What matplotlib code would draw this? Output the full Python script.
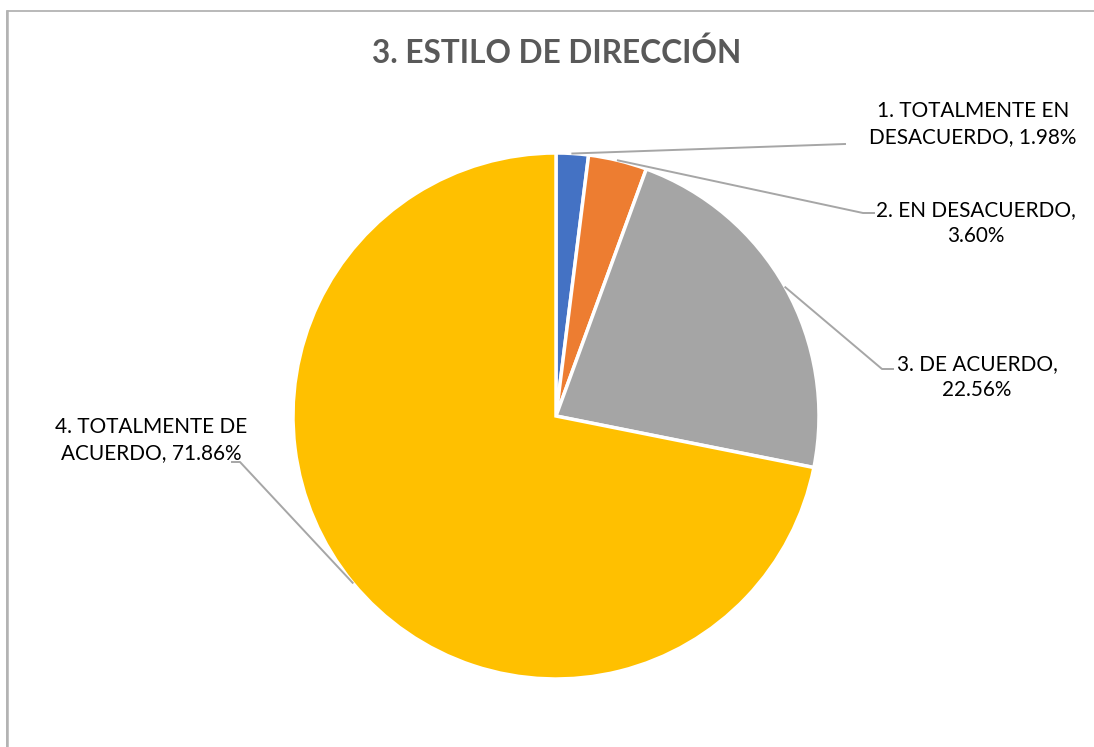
import matplotlib
matplotlib.use("Agg")
import matplotlib.pyplot as plt
import numpy as np

# ---- data ----
categories = ["1. TOTALMENTE EN\nDESACUERDO", "2. EN DESACUERDO,\n", "3. DE ACUERDO,\n", "4. TOTALMENTE DE\nACUERDO"]
label_texts = ["1. TOTALMENTE EN\nDESACUERDO, 1.98%", "2. EN DESACUERDO,\n3.60%",
               "3. DE ACUERDO,\n22.56%", "4. TOTALMENTE DE\nACUERDO, 71.86%"]
values = [1.98, 3.60, 22.56, 71.86]
colors = ["#4472C4", "#ED7D31", "#A5A5A5", "#FFC000"]
title = "3. ESTILO DE DIRECCIÓN"

W, H = 1094, 747
fig = plt.figure(figsize=(W / 100, H / 100), dpi=100)
ax = fig.add_axes([0, 0, 1, 1])
ax.set_xlim(0, W)
ax.set_ylim(0, H)
ax.set_aspect("equal")
ax.axis("off")

def Y(y):  # pixel y (top origin) -> data y
    return H - y

cx, cy, R = 556, Y(416), 263
wedges, _ = ax.pie(values, colors=colors, startangle=90, counterclock=False,
                   center=(cx, cy), radius=R, frame=True,
                   wedgeprops=dict(edgecolor="white", linewidth=2.5))
ax.set_xlim(0, W)
ax.set_ylim(0, H)
ax.axis("off")

# border (chart area frame)
ax.plot([7, 7, W + 5], [-5, Y(10.5), Y(10.5)], color="#b3b3b3", lw=1.3, solid_capstyle="butt")
ax.plot([7.2, 7.2], [-5, Y(10.5)], color="#b3b3b3", lw=1.8)

# leader lines: start on wedge edge at its mid angle
line_color = "#a6a6a6"
bends = [[(845, 144)], [(863, 213), (874, 213)], [(882, 369), (893, 369)], [(240, 462), (232, 462)]]
label_pos = [(973, 124), (976, 223), (977, 377), (151, 440)]

def fit_size(text, target_w, family, weight="normal"):
    t = fig.text(0, 0, text, fontsize=10, family=family, weight=weight)
    fig.canvas.draw()
    w = t.get_window_extent().width
    t.remove()
    return 10 * target_w / w

fam = ["Lato", "DejaVu Sans"]
lab_fs = fit_size("DESACUERDO, 1.98%", 206, fam)

for w, b, lp, txt in zip(wedges, bends, label_pos, label_texts):
    ang = np.deg2rad((w.theta1 + w.theta2) / 2)
    sx, sy = cx + R * np.cos(ang), cy + R * np.sin(ang)
    xs = [sx] + [p[0] for p in b]
    ys = [sy] + [Y(p[1]) for p in b]
    ax.plot(xs, ys, color=line_color, lw=1.4)
    ax.text(lp[0], Y(lp[1]), txt, ha="center", va="center", fontsize=lab_fs,
            family=fam, color="#000000", linespacing=1.35, multialignment="center")

tfs = fit_size(title, 369, fam, weight="bold")
ax.text(557, Y(53), title, ha="center", va="center", fontsize=tfs,
        family=fam, weight="bold", color="#595959")

fig.savefig("out.png", dpi=100)
